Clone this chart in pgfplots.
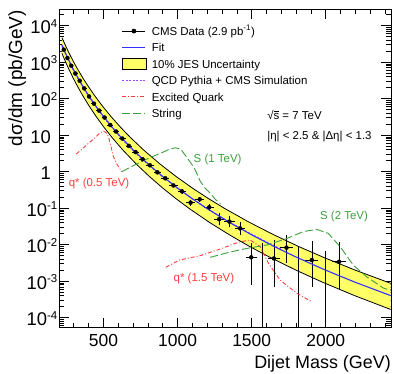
\documentclass[border=0pt]{standalone}
\usepackage{fontspec}
\setmainfont{Liberation Sans}
\usepackage{pgfplots}
\pgfplotsset{compat=1.18}
\usepackage{pgfplotstable}

\definecolor{jesyellow}{RGB}{255,255,102}
\definecolor{lineblue}{RGB}{50,50,255}
\definecolor{qcdpurple}{RGB}{160,70,255}
\definecolor{qred}{RGB}{255,60,60}
\definecolor{sgreen}{RGB}{60,160,60}

\newcommand{\sps}[1]{\raisebox{6.5pt}{\fontsize{11.5}{12}\selectfont #1}}
\newcommand{\spph}{\phantom{\sps{0}}}

\pgfplotsset{
  linelegend/.style={legend image code/.code={\draw[mark repeat=2,mark phase=2,##1] plot coordinates {(0pt,0pt)(11.5pt,0pt)(23pt,0pt)};}},
  jesbox/.style={legend image code/.code={\draw[##1] (0pt,-5.8pt) rectangle (24pt,5.8pt);}},
}

\pgfplotstableread{
m v ex ep em
232 2200 12 33 33
257 1300 13 20 20
283 800 13 12 12
310.5 490 14.5 7 7
339.5 310 14.5 5 5
370 192 16 3 3
402.5 115 16.5 2 2
436 73 17 1.2 1.2
471 47 18 0.9 0.9
507.5 30.5 18.5 0.7 0.7
545.5 19.0 19.5 0.5 0.5
585.5 12.6 20.5 0.35 0.35
627.5 8.1 21.5 0.25 0.25
671 5.1 22 0.2 0.2
716.5 3.45 23.5 0.16 0.16
764 2.2 24 0.13 0.13
813 1.50 25 0.10 0.10
864 0.96 26 0.08 0.08
917 0.66 27 0.065 0.065
972 0.42 28 0.05 0.05
1029 0.29 29 0.042 0.042
1088 0.142 30 0.028 0.028
1149.5 0.175 31.5 0.031 0.031
1213.5 0.106 32.5 0.024 0.024
1280 0.050 33.5 0.023 0.015
1350 0.043 35 0.018 0.013
1422 0.028 36 0.014 0.010
1497 0.0045 37.5 0.0066 0.0037
1650 0.0042 40 0.0090 0.0035
1735 0.0083 41.5 0.0102 0.0052
1906 0.0038 44.5 0.0088 0.0031
2090 0.0034 47.5 0.0082 0.0028
}\datatable

\begin{document}
\begin{tikzpicture}
\useasboundingbox (-59bp,-46.3bp) rectangle (335bp,327.7bp);
\begin{axis}[
  scale only axis, width=332bp, height=318.4bp,
  xmin=200, xmax=2440, ymode=log, ymin=5.32e-5, ymax=2.81e4,
  axis line style={line width=0.8pt},
  every tick/.style={black, line width=0.7pt},
  tick align=inside, major tick length=10pt, minor tick length=5pt,
  xtick={500,1000,1500,2000}, xticklabels={500,1000,1500,2000},
  minor xtick={300,400,600,700,800,900,1100,1200,1300,1400,1600,1700,1800,1900,2100,2200,2300,2400},
  ytick={1e-4,1e-3,1e-2,1e-1,1,10,100,1000,10000},
  yticklabels={10\sps{-4},10\sps{-3},10\sps{-2},10\sps{-1},1\spph,10\spph,10\sps{2},10\sps{3},10\sps{4}},
  minor ytick={6e-5,7e-5,8e-5,9e-5,
    2e-4,3e-4,4e-4,5e-4,6e-4,7e-4,8e-4,9e-4,
    2e-3,3e-3,4e-3,5e-3,6e-3,7e-3,8e-3,9e-3,
    2e-2,3e-2,4e-2,5e-2,6e-2,7e-2,8e-2,9e-2,
    0.2,0.3,0.4,0.5,0.6,0.7,0.8,0.9,
    2,3,4,5,6,7,8,9,
    20,30,40,50,60,70,80,90,
    200,300,400,500,600,700,800,900,
    2000,3000,4000,5000,6000,7000,8000,9000,20000},
  xticklabel style={font=\fontsize{17.5}{18}\selectfont, inner sep=0pt, yshift=-6pt},
  yticklabel style={font=\fontsize{18.5}{19}\selectfont, inner sep=0pt, xshift=-1.5pt, yshift=-1pt},
  xlabel={Dijet Mass (GeV)},
  ylabel={dσ/dm (pb/GeV)},
  xlabel style={font=\fontsize{18}{20}\selectfont, at={(axis description cs:1,-0.0864)}, anchor=north east, inner sep=0pt},
  ylabel style={font=\fontsize{19}{21}\selectfont, at={(axis description cs:-0.1527,0.9978)}, anchor=north east, inner sep=0pt},
  linelegend,
  legend cell align=left,
  legend style={at={(axis description cs:0.189,0.958)}, anchor=north west, inner sep=0pt, draw=none, fill=none,
    column sep=5pt, row sep=0pt, font=\fontsize{11.5}{13}\selectfont,
    nodes={inner sep=0pt, text height=12.5pt, text depth=4pt}},
]
% legend
\addlegendimage{color=black, line width=0.7pt, mark=*, mark size=2pt}
\addlegendentry{CMS Data (2.9 pb\textsuperscript{-1})}
\addlegendimage{color={rgb,255:red,50;green,50;blue,255}, line width=1.1pt}
\addlegendentry{Fit}
\addlegendimage{jesbox, fill=jesyellow, draw=black, line width=0.8pt}
\addlegendentry{10\% JES Uncertainty}
\addlegendimage{color=qcdpurple, line width=0.9pt, dash pattern=on 2pt off 1.5pt}
\addlegendentry{QCD Pythia + CMS Simulation}
\addlegendimage{color=qred, line width=0.9pt, dash pattern=on 4pt off 2pt on 1pt off 2pt}
\addlegendentry{Excited Quark}
\addlegendimage{color=sgreen, line width=0.9pt, dash pattern=on 8pt off 3pt}
\addlegendentry{String}

% JES band
\addplot[fill=jesyellow, draw=none, forget plot] coordinates {
(220,4696) (242,2957) (264,1916) (286,1274) (308,866.9) (330,601.3) (363,359.0) (396,221.7) (440,122.0) (495,61.43) (550,32.73) (616,16.35) (682,8.63) (770,3.957) (880,1.639) (990,0.738) (1100,0.3556) (1210,0.1814) (1320,0.0970) (1485,0.0409) (1650,0.0186) (1815,0.008994) (1980,0.004584) (2200,0.001998) (2420,0.000930) (2438,0.000876)
(2438,0.000168) (2194,0.000403) (1980,0.000930) (1800,0.001998) (1620,0.004584) (1485,0.008994) (1350,0.0186) (1215,0.0409) (1080,0.0970) (990,0.1814) (900,0.3556) (810,0.738) (720,1.639) (630,3.957) (558,8.63) (504,16.35) (450,32.73) (405,61.43) (360,122.0) (324,221.7) (297,359.0) (270,601.3) (252,866.9) (234,1274) (220,1748)
} -- cycle;
\addplot[black, line width=0.8pt, forget plot] coordinates {
(220,4696) (242,2957) (264,1916) (286,1274) (308,866.9) (330,601.3) (363,359.0) (396,221.7) (440,122.0) (495,61.43) (550,32.73) (616,16.35) (682,8.63) (770,3.957) (880,1.639) (990,0.738) (1100,0.3556) (1210,0.1814) (1320,0.0970) (1485,0.0409) (1650,0.0186) (1815,0.008994) (1980,0.004584) (2200,0.001998) (2420,0.000930) (2438,0.000876)};
\addplot[black, line width=0.8pt, forget plot] coordinates {
(220,1748) (234,1274) (252,866.9) (270,601.3) (297,359.0) (324,221.7) (360,122.0) (405,61.43) (450,32.73) (504,16.35) (558,8.63) (630,3.957) (720,1.639) (810,0.738) (900,0.3556) (990,0.1814) (1080,0.0970) (1215,0.0409) (1350,0.0186) (1485,0.008994) (1620,0.004584) (1800,0.001998) (1980,0.000930) (2194,0.000403) (2438,0.000168)};

% QCD Pythia
\addplot[qcdpurple, line width=0.9pt, dash pattern=on 2pt off 1.5pt, forget plot] coordinates {
(220,2750) (260,1185) (300,559) (360,206) (400,113.5) (500,30.8) (620,8.2) (700,3.76) (800,1.573) (900,0.716) (1000,0.3485) (1100,0.1796) (1200,0.0970) (1350,0.0417) (1500,0.01934) (1650,0.00944) (1700,0.0076)};

% data
\addplot[black, only marks, mark=*, mark size=2pt, forget plot,
  error bars/.cd, x dir=both, x explicit, y dir=both, y explicit,
  error bar style={black, line width=0.7pt}, error mark=none]
  table[x=m, y=v, x error=ex, y error plus=ep, y error minus=em] {\datatable};
\addplot[black, line width=0.7pt, forget plot] coordinates {(1572,1e-5) (1572,0.011)};
\addplot[black, line width=0.7pt, forget plot] coordinates {(1818,1e-5) (1818,0.0088)};
\addplot[black, line width=0.7pt, forget plot] coordinates {(1996,1e-5) (1996,0.0069)};

% fit
\addplot[lineblue, line width=1.1pt, forget plot] coordinates {
(220,2957) (240,1916) (260,1274) (280,866.9) (300,601.3) (330,359.0) (360,221.7) (400,122.0) (450,61.43) (500,32.73) (560,16.35) (620,8.63) (700,3.957) (800,1.639) (900,0.738) (1000,0.3556) (1100,0.1814) (1200,0.0970) (1350,0.0409) (1500,0.0186) (1650,0.008994) (1800,0.004584) (2000,0.001998) (2200,0.000930) (2438,0.000403)};

% excited quarks
\addplot[qred, line width=0.9pt, dash pattern=on 4pt off 2pt on 1pt off 2pt, forget plot] coordinates {
(316,3.05) (360,4.3) (399,6.0) (440,8.3) (478,11.7) (500,13.0) (520,11.5) (534,9.1) (550,5.0) (567,2.57) (585,1.8) (601,1.37) (624,1.0)};
\addplot[qred, line width=0.9pt, dash pattern=on 4pt off 2pt on 1pt off 2pt, forget plot] coordinates {
(921,0.0024) (1013,0.0038) (1152,0.0050) (1287,0.0076) (1411,0.0117) (1489,0.0135) (1557,0.0089) (1613,0.0031) (1692,0.00107) (1804,0.00047) (1905,0.000275)};

% strings
\addplot[sgreen, line width=0.9pt, dash pattern=on 8pt off 3pt, forget plot] coordinates {
(624,1.0) (700,1.45) (800,2.3) (900,3.4) (950,4.2) (985,4.5) (1020,4.2) (1062,2.5) (1100,1.5) (1120,1.1) (1152,0.56) (1185,0.355) (1220,0.257) (1253,0.178) (1290,0.13)};
\addplot[sgreen, line width=0.9pt, dash pattern=on 8pt off 3pt, forget plot] coordinates {
(1220,0.0045) (1354,0.0063) (1467,0.0079) (1602,0.0098) (1737,0.0148) (1849,0.0229) (1939,0.0263) (2017,0.0204) (2096,0.0089) (2186,0.00275) (2276,0.00132) (2388,0.00065) (2438,0.00056)};

% labels
\node[font=\fontsize{11.5}{13}\selectfont, text=qred] at (axis cs:470,0.481) {q* (0.5 TeV)};
\node[font=\fontsize{11.5}{13}\selectfont, text=qred] at (axis cs:1178,0.00115) {q* (1.5 TeV)};
\node[font=\fontsize{11.5}{13}\selectfont, text=sgreen] at (axis cs:1270,2.19) {S (1 TeV)};
\node[font=\fontsize{11.5}{13}\selectfont, text=sgreen] at (axis cs:2123,0.0585) {S (2 TeV)};
\node[font=\fontsize{11.5}{13}\selectfont, anchor=west, inner sep=0pt] at (axis cs:1604,35.5) {√\rlap{\raisebox{8.4pt}{\rule{5.8pt}{0.55pt}}}s = 7 TeV};
\node[font=\fontsize{11.5}{13}\selectfont, anchor=west, inner sep=0pt] at (axis cs:1604,9.33) {|η| < 2.5 \& |Δη| < 1.3};
\end{axis}
\end{tikzpicture}
\end{document}
